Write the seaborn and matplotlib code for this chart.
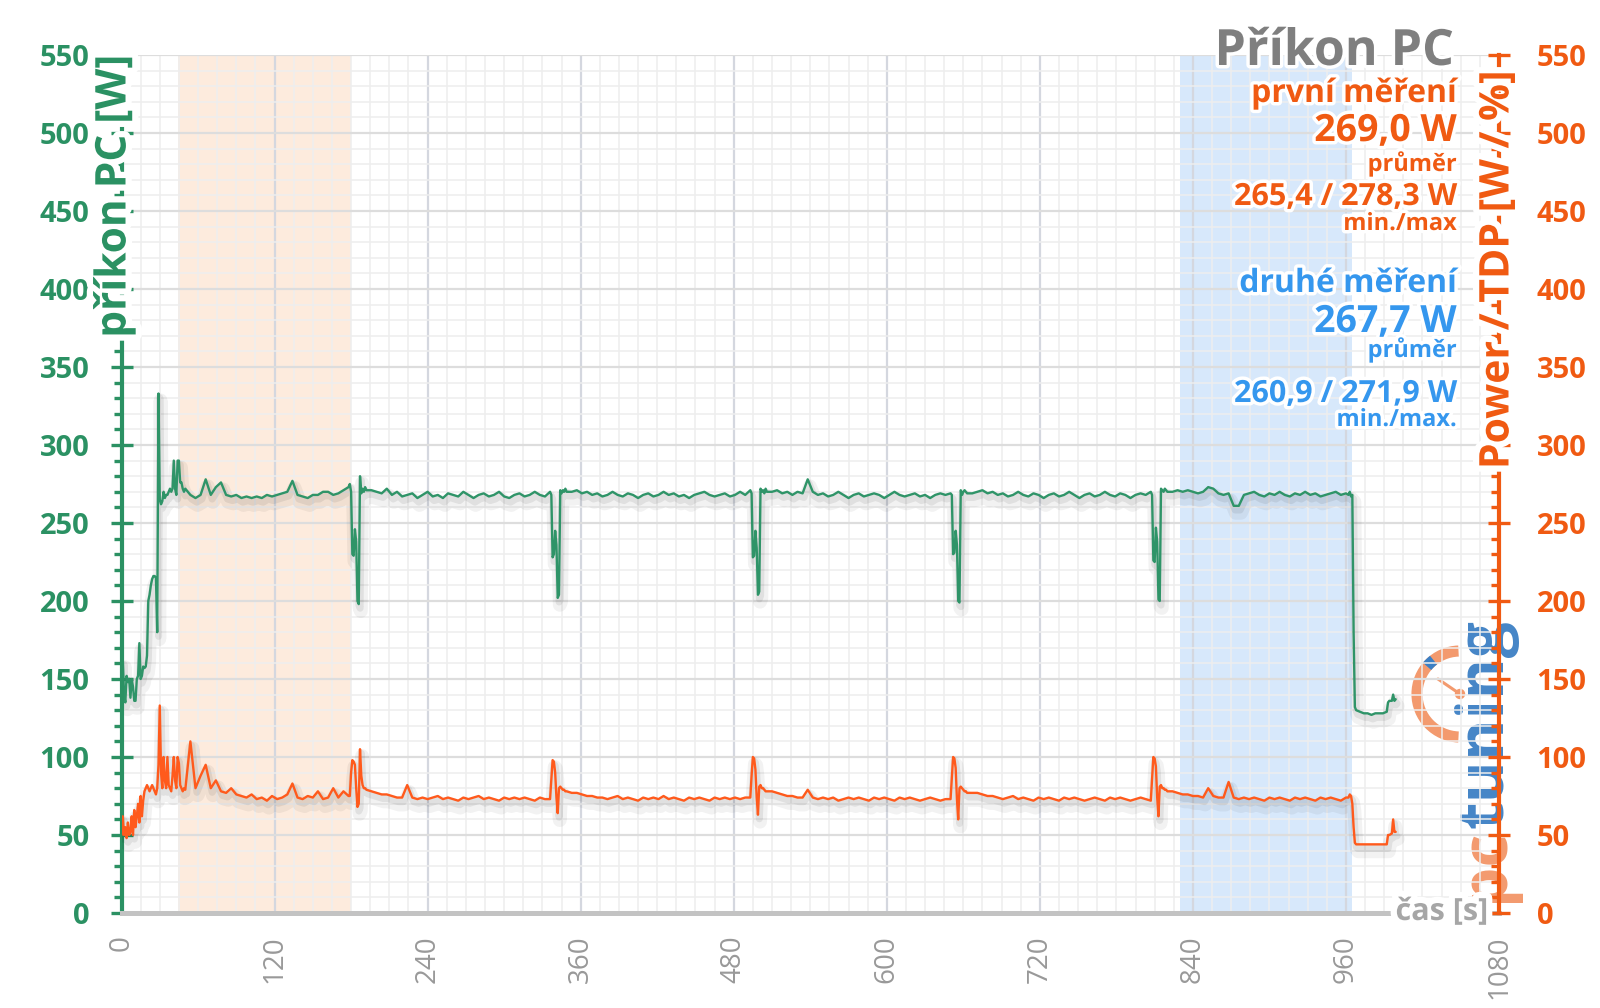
import matplotlib
matplotlib.use("Agg")
import matplotlib.pyplot as plt
import matplotlib.patheffects as pe
from matplotlib.ticker import MultipleLocator
from matplotlib.patches import Arc, Circle
from matplotlib.lines import Line2D
import seaborn as sns

# ---------------- data ----------------
time_s = [
    0, 1, 2, 3, 4, 5, 6, 7, 8, 9,
    10, 11, 12, 13, 14, 15, 16, 17, 18, 19,
    20, 21, 22, 23, 24, 25, 26, 27, 28, 29,
    30, 31, 32, 33, 34, 35, 36, 37, 38, 39,
    40, 41, 42, 43, 44, 45, 46, 47, 48, 49,
    50,
    54, 58, 62, 66, 70, 74, 78, 82, 86, 90,
    94, 98, 102, 106, 110, 114, 118, 122, 126, 130,
    134, 138, 142, 146, 150, 154, 158, 162, 166, 170,
    174, 178,
    179, 180, 181, 182, 183, 184, 185, 186, 187, 188, 189, 190, 191, 192,
    196, 200, 204, 208, 212, 216, 220, 224, 228, 232,
    236, 240, 244, 248, 252, 256, 260, 264, 268, 272,
    276, 280, 284, 288, 292, 296, 300, 304, 308, 312,
    316, 320, 324, 328, 332,
    336, 337, 338, 339, 340, 341, 342, 343, 344, 345, 346, 347, 348, 349,
    353, 357, 361, 365, 369, 373, 377, 381, 385, 389,
    393, 397, 401, 405, 409, 413, 417, 421, 425, 429,
    433, 437, 441, 445, 449, 453, 457, 461, 465, 469,
    473, 477, 481, 485, 489,
    493, 494, 495, 496, 497, 498, 499, 500, 501, 502, 503, 504, 505, 506,
    510, 514, 518, 522, 526, 530, 534, 538, 542, 546,
    550, 554, 558, 562, 566, 570, 574, 578, 582, 586,
    590, 594, 598, 602, 606, 610, 614, 618, 622, 626,
    630, 634, 638, 642, 646,
    650, 651, 652, 653, 654, 655, 656, 657, 658, 659, 660, 661, 662, 663,
    667, 671, 675, 679, 683, 687, 691, 695, 699, 703,
    707, 711, 715, 719, 723, 727, 731, 735, 739, 743,
    747, 751, 755, 759, 763, 767, 771, 775, 779, 783,
    787, 791, 795, 799, 803,
    807, 808, 809, 810, 811, 812, 813, 814, 815, 816, 817, 818, 819, 820,
    824, 828, 832, 836, 840, 844, 848, 852, 856, 860,
    864, 868, 872, 876, 880, 884, 888, 892, 896, 900,
    904, 908, 912, 916, 920, 924, 928, 932, 936, 940,
    944, 948, 952, 956, 960,
    962, 963, 964, 965, 966, 967, 968, 971, 974, 977,
    980, 983, 986, 989, 992, 993, 994, 996, 997, 998,
    999,
]

pc_w = [  # příkon PC [W]
    150, 162, 140, 135, 152, 148, 150, 138, 150, 145,
    136, 136, 150, 152, 173, 150, 152, 158, 157, 158,
    165, 200, 204, 210, 214, 216, 216, 215, 180, 333,
    265, 262, 264, 270, 266, 268, 268, 270, 272, 270,
    272, 290, 272, 268, 290, 290, 276, 276, 272, 270,
    272,
    268, 266, 268, 278, 268, 273, 276, 268, 267, 268,
    266, 267, 266, 267, 266, 268, 267, 268, 269, 270,
    277, 268, 267, 266, 268, 268, 270, 270, 268, 269,
    271, 273,
    275, 270, 230, 229, 246, 238, 200, 198, 280, 269, 272, 270, 273, 271,
    271, 270, 269, 272, 268, 270, 267, 268, 269, 266,
    268, 270, 267, 268, 266, 269, 268, 267, 270, 268,
    266, 268, 269, 267, 268, 270, 267, 266, 268, 269,
    267, 268, 270, 268, 267,
    270, 268, 228, 230, 245, 236, 202, 204, 271, 269, 271, 270, 272, 270,
    270, 271, 269, 270, 268, 269, 267, 268, 270, 268,
    267, 269, 268, 266, 268, 269, 267, 268, 270, 268,
    269, 267, 268, 266, 268, 269, 270, 268, 267, 268,
    269, 267, 268, 270, 268,
    271, 269, 228, 229, 245, 234, 204, 206, 272, 270, 271, 269, 272, 270,
    270, 271, 269, 270, 268, 270, 269, 278, 270, 268,
    269, 267, 268, 270, 268, 266, 268, 269, 267, 268,
    269, 268, 266, 268, 270, 268, 267, 268, 269, 267,
    268, 266, 268, 269, 268,
    269, 268, 230, 231, 245, 236, 200, 199, 271, 268, 270, 271, 270, 269,
    269, 270, 271, 269, 270, 268, 269, 267, 268, 270,
    268, 267, 269, 268, 266, 268, 269, 267, 268, 270,
    268, 266, 268, 269, 267, 268, 270, 268, 267, 269,
    268, 266, 268, 269, 268,
    270, 268, 226, 225, 247, 238, 201, 200, 272, 271, 270, 272, 271, 270,
    270, 271, 270, 271, 270, 269, 270, 273, 272, 269,
    268, 269, 261, 261, 268, 269, 270, 268, 267, 269,
    268, 270, 268, 267, 269, 268, 270, 268, 269, 267,
    268, 269, 270, 268, 269,
    268, 270, 267, 268, 180, 132, 130, 129, 128, 128,
    127, 128, 128, 128, 129, 135, 136, 136, 140, 136,
    137,
]

tdp_w = [  # Power / TDP [W / %]
    50, 62, 50, 55, 48, 58, 50, 52, 62, 50,
    66, 55, 62, 70, 58, 75, 62, 72, 78, 80,
    82, 80, 78, 80, 82, 80, 78, 76, 80, 95,
    133, 90, 80, 100, 85, 80, 100, 82, 80, 78,
    88, 100, 85, 80, 100, 96, 82, 80, 78, 80,
    79,
    110, 80, 88, 95, 80, 85, 78, 77, 80, 76,
    75, 74, 76, 73, 74, 72, 75, 73, 74, 76,
    83, 74, 73, 75, 74, 78, 73, 74, 80, 74,
    78, 75,
    75, 90, 98, 97, 95, 80, 68, 70, 105, 88, 82, 80, 80, 79,
    78, 77, 76, 76, 75, 74, 74, 82, 74, 73,
    74, 73, 74, 75, 73, 74, 73, 72, 74, 73,
    74, 75, 73, 74, 73, 72, 74, 73, 74, 73,
    74, 73, 72, 74, 73,
    73, 85, 98, 97, 90, 74, 64, 80, 81, 80, 79, 79, 78, 78,
    77, 77, 76, 75, 75, 74, 74, 73, 74, 75,
    73, 74, 73, 72, 74, 73, 74, 73, 75, 73,
    74, 73, 72, 74, 73, 74, 73, 72, 74, 73,
    74, 73, 74, 73, 74,
    74, 88, 100, 99, 92, 74, 63, 81, 82, 80, 80, 79, 78, 78,
    78, 77, 76, 75, 75, 74, 74, 79, 74, 73,
    74, 73, 74, 72, 73, 74, 73, 74, 73, 72,
    74, 73, 74, 73, 72, 74, 73, 74, 73, 72,
    73, 74, 73, 72, 73,
    73, 87, 100, 99, 93, 73, 60, 80, 81, 80, 79, 78, 78, 77,
    77, 77, 76, 75, 75, 74, 73, 74, 75, 73,
    74, 73, 72, 74, 73, 74, 73, 72, 74, 73,
    74, 73, 72, 73, 74, 73, 72, 74, 73, 74,
    73, 72, 73, 74, 73,
    72, 86, 100, 99, 94, 74, 62, 81, 82, 80, 80, 79, 79, 78,
    78, 77, 76, 76, 75, 75, 74, 80, 75, 74,
    74, 84, 74, 73, 74, 73, 74, 73, 72, 74,
    73, 74, 73, 72, 74, 73, 74, 73, 72, 74,
    73, 74, 73, 72, 74,
    74, 76, 75, 70, 55, 45, 44, 44, 44, 44,
    44, 44, 44, 44, 44, 50, 50, 51, 60, 52,
    52,
]

orange_span = [44, 180]
blue_span = [830, 965]

x_ticks = [0, 120, 240, 360, 480, 600, 720, 840, 960, 1080]
y_ticks = [0, 50, 100, 150, 200, 250, 300, 350, 400, 450, 500, 550]

title = "Příkon PC"
left_label = "příkon PC [W]"
right_label = "Power / TDP [W / %]"
x_label = "čas [s]"
first_lines = ["první měření", "269,0 W", "průměr", "265,4 / 278,3 W", "min./max"]
second_lines = ["druhé měření", "267,7 W", "průměr", "260,9 / 271,9 W", "min./max."]

assert len(time_s) == len(pc_w) == len(tdp_w), (len(time_s), len(pc_w), len(tdp_w))

# ---------------- style ----------------
GREEN = "#2b9163"
GREEN_LINE = "#2f9468"
ORANGE = "#f05a12"
ORANGE_LINE = "#ff5a1c"
BLUE = "#3597ee"
GRAY_TITLE = "#7f7f7f"
GRAY_AX = "#c3c3c3"
GRAY_LBL = "#999999"

sns.set_style("white")
plt.rcParams["font.family"] = ["Open Sans", "DejaVu Sans"]

W, H = 1600, 1008
fig = plt.figure(figsize=(W / 100, H / 100), dpi=100)
fig.patch.set_facecolor("white")


def fpos(x, y):
    return (x / W, 1 - y / H)


ax = fig.add_axes([0.07594, 0.09425, 0.86094, 0.85119])
ax.set_zorder(5)
ax.patch.set_alpha(0)
ax.set_axisbelow(True)

ax.axvspan(orange_span[0], orange_span[1], color="#fdebdd", lw=0, zorder=0.2)
ax.axvspan(blue_span[0], blue_span[1], color="#d7e8fb", lw=0, zorder=0.2)

shadow = [
    pe.SimpleLineShadow(offset=(1.5, -5), shadow_color="black", alpha=0.05, linewidth=10),
    pe.SimpleLineShadow(offset=(1, -3), shadow_color="black", alpha=0.07, linewidth=5),
    pe.Normal(),
]

sns.lineplot(x=time_s, y=pc_w, ax=ax, color=GREEN_LINE, linewidth=1.7,
             errorbar=None, legend=False)
ax.lines[-1].set_path_effects(shadow)

ax.set_xlim(0, 1080)
ax.set_ylim(0, 550)
ax.set_xlabel("")
ax.set_ylabel("")
ax.set_xticks(x_ticks)
ax.set_xticklabels([str(v) for v in x_ticks])
ax.set_yticks(y_ticks)
ax.set_yticklabels([str(v) for v in y_ticks], fontweight="bold")
ax.xaxis.set_minor_locator(MultipleLocator(15))
ax.yaxis.set_minor_locator(MultipleLocator(10))

ax.grid(True, which="minor", axis="both", color="#eeeeee", linewidth=1.1)
ax.grid(True, which="major", axis="y", color="#dddddd", linewidth=1.6)
ax.grid(True, which="major", axis="x", color="#d4d7df", linewidth=1.6)

for s in ["top", "right"]:
    ax.spines[s].set_visible(False)
ax.spines["left"].set_color(GREEN)
ax.spines["left"].set_linewidth(3)
ax.spines["bottom"].set_color(GRAY_AX)
ax.spines["bottom"].set_linewidth(3.6)

ax.tick_params(axis="y", which="major", direction="inout", length=16, width=2.4,
               colors=GREEN, labelsize=21, pad=15)
ax.tick_params(axis="y", which="minor", direction="out", length=5.5, width=2.4,
               color=GREEN)
ax.tick_params(axis="x", which="major", direction="out", length=6, width=2.6,
               color=GRAY_AX, labelcolor=GRAY_LBL, labelsize=20, pad=10,
               labelrotation=90)
ax.tick_params(axis="x", which="minor", length=0)

ax2 = ax.twinx()
ax2.set_zorder(6)
ax2.patch.set_alpha(0)
sns.lineplot(x=time_s, y=tdp_w, ax=ax2, color=ORANGE_LINE, linewidth=1.7,
             errorbar=None, legend=False)
ax2.lines[-1].set_path_effects(shadow)
ax2.set_ylim(0, 550)
ax2.set_xlim(0, 1080)
ax2.set_ylabel("")
ax2.set_yticks(y_ticks)
ax2.set_yticklabels([str(v) for v in y_ticks], fontweight="bold")
ax2.yaxis.set_minor_locator(MultipleLocator(10))
for s in ["top", "left", "bottom"]:
    ax2.spines[s].set_visible(False)
ax2.spines["right"].set_color(ORANGE)
ax2.spines["right"].set_linewidth(3)
ax2.tick_params(axis="y", which="major", direction="inout", length=16, width=2.4,
                colors=ORANGE, labelsize=21, pad=19)
ax2.tick_params(axis="y", which="minor", direction="in", length=5.5, width=2.4,
                color=ORANGE)
ax2.grid(False)

# ---------------- logo (watermark) ----------------
cx, cy = 1460 / 100, (H - 694) / 100
fig.add_artist(Arc((cx, cy), 0.86, 0.86, theta1=92, theta2=268, lw=8,
                   color="#f39a6e", transform=fig.dpi_scale_trans, zorder=1))
fig.add_artist(Arc((cx, cy), 0.86, 0.86, theta1=128, theta2=140, lw=8,
                   color="#3b7fc4", transform=fig.dpi_scale_trans, zorder=1.1))
fig.add_artist(Line2D([cx, cx - 0.22], [cy, cy + 0.15], lw=2.2, color="#f39a6e",
                      transform=fig.dpi_scale_trans, zorder=1))
fig.add_artist(Circle((cx, cy), 0.045, color="#f39a6e",
                      transform=fig.dpi_scale_trans, zorder=1))
fig.text(*fpos(1486, 902), "pc", rotation=90, ha="center", va="bottom",
         fontsize=46, fontweight="bold", color="#f39a6e", zorder=1)
fig.text(*fpos(1486, 828), "tuning", rotation=90, ha="center", va="bottom",
         fontsize=46, fontweight="bold", color="#3b7fc4", alpha=0.95, zorder=1)

# ---------------- texts ----------------
glow = [pe.withStroke(linewidth=5, foreground="white")]
glow_big = [pe.withStroke(linewidth=9, foreground="white")]

fig.text(*fpos(115, 55), left_label, rotation=90, ha="center", va="top",
         fontsize=30.5, fontweight="bold", color=GREEN, path_effects=glow_big, zorder=20)
fig.text(*fpos(1498, 70), right_label, rotation=90, ha="center", va="top",
         fontsize=29.5, fontweight="bold", color=ORANGE, path_effects=glow_big, zorder=20)
fig.text(*fpos(1488, 912), x_label, ha="right", va="center",
         fontsize=22, fontweight="bold", color="#a6a6a6", path_effects=glow_big, zorder=20)

RX = 1457
fig.text(*fpos(1454, 65), title, ha="right", va="baseline", fontsize=36,
         fontweight="bold", color=GRAY_TITLE, path_effects=glow, zorder=20)

sizes = [23, 27, 17, 22, 17]
base_first = [102, 141, 171, 205, 230]
base_second = [292, 332, 357, 402, 426]
for txt, fs, yb in zip(first_lines, sizes, base_first):
    fig.text(*fpos(RX, yb), txt, ha="right", va="baseline", fontsize=fs,
             fontweight="bold", color=ORANGE, path_effects=glow, zorder=20)
for txt, fs, yb in zip(second_lines, sizes, base_second):
    fig.text(*fpos(RX, yb), txt, ha="right", va="baseline", fontsize=fs,
             fontweight="bold", color=BLUE, path_effects=glow, zorder=20)

fig.savefig("out.png", dpi=100, facecolor="white")
